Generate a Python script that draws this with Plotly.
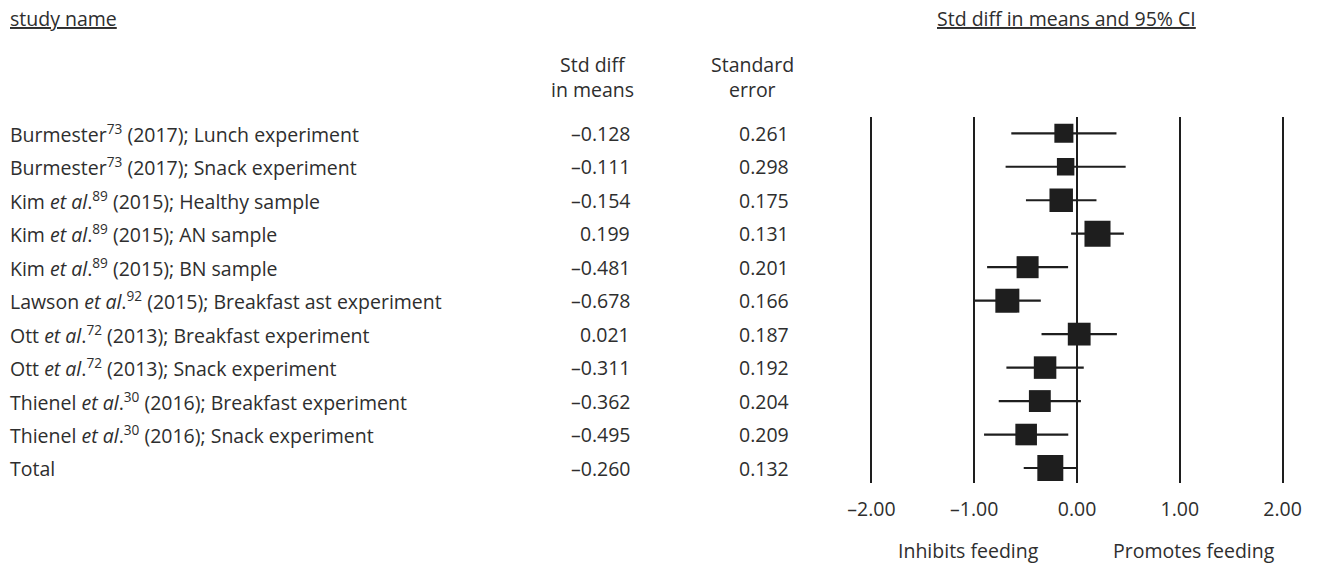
import numpy as np
import plotly.graph_objects as go

# Studies, effect sizes (standardised mean difference) and standard errors
studies = [
    "Burmester<sup>73</sup> (2017); Lunch experiment",
    "Burmester<sup>73</sup> (2017); Snack experiment",
    "Kim <i>et al</i>.<sup>89</sup> (2015); Healthy sample",
    "Kim <i>et al</i>.<sup>89</sup> (2015); AN sample",
    "Kim <i>et al</i>.<sup>89</sup> (2015); BN sample",
    "Lawson <i>et al</i>.<sup>92</sup> (2015); Breakfast ast experiment",
    "Ott <i>et al</i>.<sup>72</sup> (2013); Breakfast experiment",
    "Ott <i>et al</i>.<sup>72</sup> (2013); Snack experiment",
    "Thienel <i>et al</i>.<sup>30</sup> (2016); Breakfast experiment",
    "Thienel <i>et al</i>.<sup>30</sup> (2016); Snack experiment",
    "Total",
]
std_diff = [-0.128, -0.111, -0.154, 0.199, -0.481, -0.678, 0.021, -0.311, -0.362, -0.495, -0.260]
std_err = [0.261, 0.298, 0.175, 0.131, 0.201, 0.166, 0.187, 0.192, 0.204, 0.209, 0.132]
tick_values = [-2, -1, 0, 1, 2]
tick_labels = ["–2.00", "–1.00", "0.00", "1.00", "2.00"]

W, H = 1321, 565
FONT = "Open Sans"
TXT = "#2e2e2e"
INK = "#1e1e1e"
FS = 19.5

rows = np.arange(len(studies))
est = np.array(std_diff)
se = np.array(std_err)
ci_half = 1.96 * se

# square size follows the random-effects weight 1/(se^2 + tau^2)
tau2 = 0.0414
box = 6.3 / np.sqrt(se ** 2 + tau2)


def px_x(p):
    return p / W


def px_y(p):
    return 1 - p / H


def fmt(v):
    return f"{v:.3f}".replace("-", "–")


fig = go.Figure()
fig.add_trace(go.Scatter(
    x=est, y=rows, mode="markers",
    marker=dict(symbol="square", size=box, color=INK, opacity=1, line=dict(width=0)),
    error_x=dict(type="data", array=ci_half, symmetric=True,
                 color=INK, thickness=2.2, width=0),
    hoverinfo="skip", showlegend=False,
))

ann = []
# headers
ann.append(dict(text="<u>study name</u>", x=px_x(4), y=px_y(18), xanchor="left"))
ann.append(dict(text="<u>Std diff in means and 95% CI</u>", x=px_x(1066), y=px_y(18), xanchor="center"))
ann.append(dict(text="Std diff", x=px_x(590), y=px_y(65), xanchor="center"))
ann.append(dict(text="in means", x=px_x(590), y=px_y(89), xanchor="center"))
ann.append(dict(text="Standard", x=px_x(751), y=px_y(65), xanchor="center"))
ann.append(dict(text="error", x=px_x(751), y=px_y(89), xanchor="center"))
ann.append(dict(text="Inhibits feeding", x=px_x(967), y=px_y(550), xanchor="center"))
ann.append(dict(text="Promotes feeding", x=px_x(1194), y=px_y(550), xanchor="center"))
for a in ann:
    a.update(xref="paper", yref="paper", yanchor="middle", showarrow=False,
             font=dict(family=FONT, size=FS, color=TXT))

# table rows
for r, name, v, s in zip(rows, studies, std_diff, std_err):
    for text, xp, anchor in ((name, 4, "left"), (fmt(v), 630, "right"), (f"{s:.3f}", 789, "right")):
        ann.append(dict(text=text, x=px_x(xp), y=r, xref="paper", yref="y",
                        xanchor=anchor, yanchor="middle", showarrow=False,
                        font=dict(family=FONT, size=FS, color=TXT)))

x0, x1 = 850, 1305
zero_px, unit_px = 1076.3, 103.1
fig.update_layout(
    width=W, height=H,
    margin=dict(l=0, r=0, t=0, b=0),
    paper_bgcolor="white", plot_bgcolor="white",
    annotations=ann,
    xaxis=dict(
        domain=[px_x(x0), px_x(x1)],
        range=[(x0 - zero_px) / unit_px, (x1 - zero_px) / unit_px],
        tickvals=tick_values, ticktext=tick_labels,
        showgrid=True, gridcolor=INK, gridwidth=2.2,
        zeroline=False, showline=False, ticks="",
        ticklabelstandoff=12,
        tickfont=dict(family=FONT, size=FS, color=TXT),
        fixedrange=True,
    ),
    yaxis=dict(
        domain=[px_y(483), px_y(117)],
        range=[10.448, -0.487],
        showgrid=False, zeroline=False, showline=False,
        showticklabels=False, ticks="", fixedrange=True,
    ),
)

fig.write_html("out.html")
